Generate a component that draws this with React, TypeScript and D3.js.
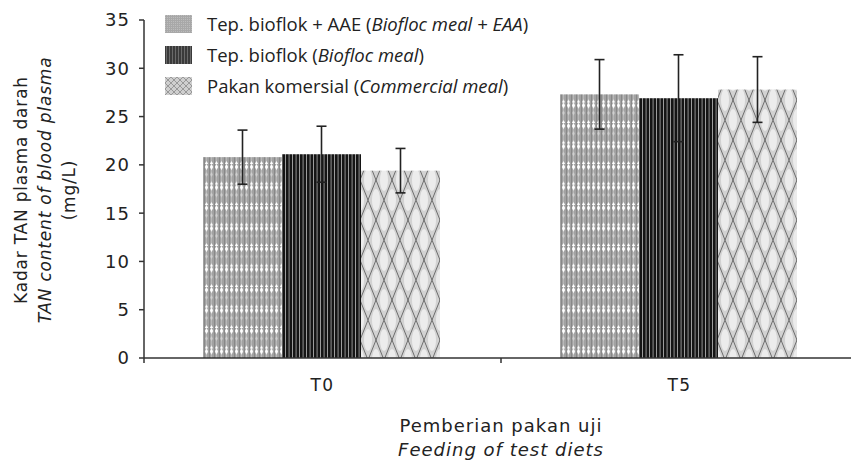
import React from "react";
import * as d3 from "d3";

const categories = ["T0", "T5"];
const seriesNames = [
  "Tep. bioflok + AAE",
  "Tep. bioflok",
  "Pakan komersial",
];
const seriesEnglish = ["Biofloc meal + EAA", "Biofloc meal", "Commercial meal"];
const bioflocEAA = [20.8, 27.3];
const bioflocEAAErr = [2.8, 3.6];
const bioflocMeal = [21.1, 26.9];
const bioflocMealErr = [2.9, 4.5];
const commercialMeal = [19.4, 27.8];
const commercialMealErr = [2.3, 3.4];
const yTicks = [0, 5, 10, 15, 20, 25, 30, 35];

const seriesValues = [bioflocEAA, bioflocMeal, commercialMeal];
const seriesErrors = [bioflocEAAErr, bioflocMealErr, commercialMealErr];
const patternIds = ["pat1", "pat2", "pat3"];
const swatchIds = ["sw1", "sw2", "sw3"];

const W = 851;
const H = 461;
const tickFont = "'DejaVu Sans', sans-serif";
const legendFont = "'Open Sans', sans-serif";

export default function App() {
  const y = d3.scaleLinear().domain([0, 35]).range([358, 20]);
  const x0 = d3.scaleBand<string>().domain(categories).range([144, 858]).padding(0);
  const x1 = d3.scaleBand<string>().domain(seriesNames).range([59, 296]).padding(0);
  const axisY = y(0);

  return (
    <svg
      width={W}
      height={H}
      style={{ position: "absolute", left: 0, top: 0, background: "#fff" }}
    >
      <defs>
        <pattern id="pat1" patternUnits="userSpaceOnUse" width={5} height={20.5} x={0} y={0}>
          <rect width={5} height={20.5} fill="#a2a2a2" />
          <rect x={0} width={1} height={20.5} fill="#888888" />
          <rect x={2} width={1} height={20.5} fill="#b8b8b8" />
          <polygon points="2.5,0 4.2,3 2.5,6 0.8,3" fill="#ffffff" />
          <polygon points="2.5,-6 4.2,-3 2.5,0 0.8,-3" fill="#ffffff" />
          <polygon points="2.5,17.5 4.2,20.5 2.5,23.5 0.8,20.5" fill="#ffffff" />
          <polygon points="2.5,8 3.8,10.5 2.5,13 1.2,10.5" fill="#d0d0d0" />
        </pattern>
        <pattern id="pat2" patternUnits="userSpaceOnUse" width={7} height={10}>
          <rect width={7} height={10} fill="#141414" />
          <rect x={1} width={1} height={10} fill="#9c9c9c" />
          <rect x={4.5} width={1.2} height={10} fill="#7a7a7a" />
        </pattern>
        <pattern id="pat3" patternUnits="userSpaceOnUse" width={16} height={40}>
          <rect width={16} height={40} fill="#d2d2d2" />
          <ellipse cx={8} cy={0} rx={4} ry={11} fill="#ececec" />
          <ellipse cx={8} cy={40} rx={4} ry={11} fill="#ececec" />
          <ellipse cx={0} cy={20} rx={4} ry={11} fill="#ececec" />
          <ellipse cx={16} cy={20} rx={4} ry={11} fill="#ececec" />
          <path d="M0,0 L16,40 M16,0 L0,40" stroke="#4a4a4a" strokeWidth={0.75} />
          <path d="M-8,20 L0,40 M8,-20 L16,0 M24,20 L16,40" stroke="#4a4a4a" strokeWidth={0.75} fill="none" />
        </pattern>
        <pattern id="sw1" patternUnits="userSpaceOnUse" width={2} height={2}>
          <rect width={2} height={2} fill="#a8a8a8" />
          <rect width={1} height={1} fill="#bcbcbc" />
        </pattern>
        <pattern id="sw2" patternUnits="userSpaceOnUse" width={3} height={6}>
          <rect width={3} height={6} fill="#3a3a3a" />
          <rect x={1} width={1} height={6} fill="#6a6a6a" />
        </pattern>
        <pattern id="sw3" patternUnits="userSpaceOnUse" width={6} height={6}>
          <rect width={6} height={6} fill="#cfcfcf" />
          <path d="M0,0 L6,6 M6,0 L0,6" stroke="#8a8a8a" strokeWidth={0.8} />
        </pattern>
      </defs>

      {categories.map((c, ci) => (
        <g key={c} transform={`translate(${x0(c)},0)`}>
          {seriesNames.map((s, si) => {
            const v = seriesValues[si][ci];
            return (
              <rect
                key={s}
                x={x1(s)}
                y={y(v)}
                width={x1.bandwidth()}
                height={axisY - y(v)}
                fill={`url(#${patternIds[si]})`}
              />
            );
          })}
        </g>
      ))}

      {categories.map((c, ci) => (
        <g key={c + "e"} transform={`translate(${x0(c)},0)`}>
          {seriesNames.map((s, si) => {
            const v = seriesValues[si][ci];
            const e = seriesErrors[si][ci];
            const cx = (x1(s) as number) + x1.bandwidth() / 2;
            return (
              <g key={s} stroke="#222" strokeWidth={1.6}>
                <line x1={cx} x2={cx} y1={y(v + e)} y2={y(v - e)} />
                <line x1={cx - 5} x2={cx + 5} y1={y(v + e)} y2={y(v + e)} />
                <line x1={cx - 5} x2={cx + 5} y1={y(v - e)} y2={y(v - e)} />
              </g>
            );
          })}
        </g>
      ))}

      <line x1={144} x2={144} y1={y(35)} y2={axisY + 5} stroke="#333" strokeWidth={1.5} />
      {yTicks.map((t) => (
        <g key={t}>
          <line x1={139} x2={144} y1={y(t)} y2={y(t)} stroke="#333" strokeWidth={1.5} />
          <text
            x={130}
            y={y(t)}
            dy="0.36em"
            textAnchor="end"
            fontFamily={tickFont}
            fontSize={18}
            letterSpacing={1}
            fill="#222"
          >
            {t}
          </text>
        </g>
      ))}

      <line x1={144} x2={W} y1={axisY} y2={axisY} stroke="#333" strokeWidth={1.5} />
      {categories.slice(1).map((c) => (
        <line key={c} x1={x0(c)} x2={x0(c)} y1={axisY} y2={axisY + 5} stroke="#333" strokeWidth={1.5} />
      ))}
      {categories.map((c) => (
        <text
          key={c}
          x={(x0(c) as number) + x0.bandwidth() / 2}
          y={391}
          textAnchor="middle"
          fontFamily={tickFont}
          fontSize={17}
          letterSpacing={1.5}
          fill="#222"
        >
          {c}
        </text>
      ))}

      <text x={501} y={432} textAnchor="middle" fontFamily={tickFont} fontSize={18} letterSpacing={1} fill="#222">
        Pemberian pakan uji
      </text>
      <text x={501} y={456} textAnchor="middle" fontFamily={tickFont} fontSize={18} letterSpacing={1} fontStyle="italic" fill="#222">
        Feeding of test diets
      </text>

      <g transform="translate(0,190) rotate(-90)" fontFamily={tickFont} fontSize={17} letterSpacing={0.8} fill="#222" textAnchor="middle">
        <text x={0} y={27}>Kadar TAN plasma darah</text>
        <text x={0} y={51} fontStyle="italic">TAN content of blood plasma</text>
        <text x={0} y={75}>(mg/L)</text>
      </g>

      {seriesNames.map((s, i) => (
        <g key={s} transform={`translate(165,${15 + i * 31})`}>
          <rect width={27} height={18} fill={`url(#${swatchIds[i]})`} />
          <text x={42} y={16} fontFamily={legendFont} fontSize={18.5} fill="#222">
            {s} (<tspan fontStyle="italic">{seriesEnglish[i]}</tspan>)
          </text>
        </g>
      ))}
    </svg>
  );
}
